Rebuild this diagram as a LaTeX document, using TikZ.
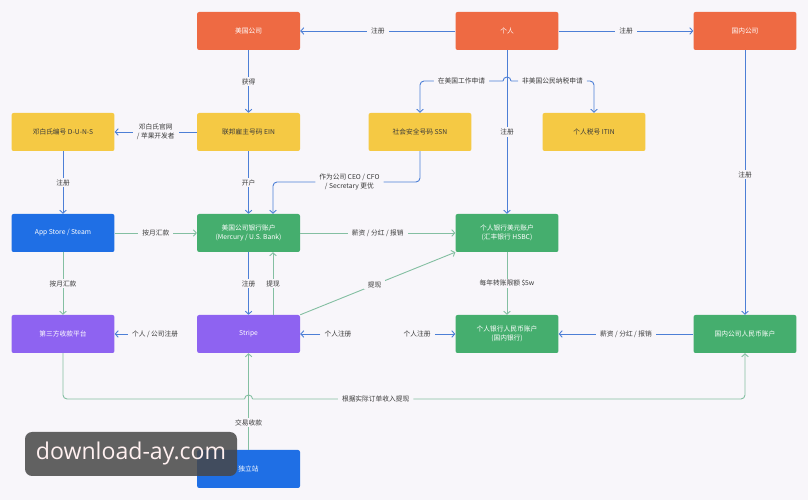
\documentclass[tikz,border=0pt]{standalone}
\usepackage{fontspec}
\setmainfont{Noto Sans CJK SC}
\newfontfamily\markfont{Open Sans}
\usepackage{tikz}
\usetikzlibrary{positioning, shapes, arrows.meta, calc}
\definecolor{fondoPapel}{HTML}{F8F6FA}
\definecolor{naranjaEnt}{HTML}{EE6A43}
\definecolor{amarilloId}{HTML}{F5C944}
\definecolor{azulPlat}{HTML}{1F6FE5}
\definecolor{verdeBanco}{HTML}{45AE6E}
\definecolor{moradoPago}{HTML}{8E63F1}
\definecolor{azulLinea}{HTML}{4D7FD6}
\definecolor{verdeLinea}{HTML}{84BFA2}
\definecolor{grisTexto}{HTML}{3A3A3A}

\begin{document}
\begin{tikzpicture}[
  box/.style={rounded corners=2pt, minimum width=3.6cm, minimum height=1.33cm,
              inner sep=2pt, align=center, font=\fontsize{6.7}{9}\selectfont},
  entity/.style={box, fill=naranjaEnt, text=white},
  idbox/.style={box, fill=amarilloId, text=grisTexto},
  platform/.style={box, fill=azulPlat, text=white},
  bankacc/.style={box, fill=verdeBanco, text=white},
  paybox/.style={box, fill=moradoPago, text=white},
  linkline/.style={azulLinea, line width=0.9pt},
  flowline/.style={verdeLinea, line width=0.9pt},
  link/.style={linkline, -{Straight Barb[length=3pt, width=6.5pt]}},
  flow/.style={flowline, -{Straight Barb[length=3pt, width=6.5pt]}},
  lbl/.style={fill=fondoPapel, text=grisTexto, inner xsep=4pt, inner ysep=1.5pt,
              align=center, font=\fontsize{6.7}{8.5}\selectfont},
  wmark/.style={fill=black!72, fill opacity=0.85, text opacity=1, text=red!6,
                rounded corners=7pt, minimum width=7.42cm, minimum height=1.54cm,
                font=\markfont\fontsize{23}{26}\selectfont}
]
  \fill[fondoPapel] (0,0) rectangle (28.28,17.5);
  \useasboundingbox (0,0) rectangle (28.28,17.5);

  % entities
  \node[entity] (usco) at (8.7, 16.415) {美国公司};
  \node[entity] (personal) at (17.745, 16.415) {个人};
  \node[entity] (cnco) at (26.075, 16.415) {国内公司};

  % identifiers
  \node[idbox] (duns) at (2.205, 12.88) {邓白氏编号 D-U-N-S};
  \node[idbox] (ein) at (8.7, 12.88) {联邦雇主号码 EIN};
  \node[idbox] (ssn) at (14.7, 12.88) {社会安全号码 SSN};
  \node[idbox] (itin) at (20.79, 12.88) {个人税号 ITIN};

  % accounts and platforms
  \node[platform] (appstore) at (2.205, 9.345) {App Store / Steam};
  \node[bankacc] (usbank) at (8.7, 9.345) {美国公司银行账户\\(Mercury / U.S. Bank)};
  \node[bankacc] (usdacc) at (17.745, 9.345) {个人银行美元账户\\(汇丰银行 HSBC)};

  \node[paybox] (thirdpay) at (2.205, 5.81) {第三方收款平台};
  \node[paybox] (stripe) at (8.7, 5.81) {Stripe};
  \node[bankacc] (cnyacc) at (17.745, 5.81) {个人银行人民币账户\\(国内银行)};
  \node[bankacc] (cnyco) at (26.075, 5.81) {国内公司人民币账户};

  \node[platform] (indep) at (8.7, 1.085) {独立站};

  \coordinate (fork) at (17.745, 14.665);
  \coordinate (ssnturn) at (9.555, 11.13);
  \coordinate (hopb) at (8.7, 3.535);

  % registration links
  \draw[link] (personal) -- node[lbl]{注册} (usco);
  \draw[link] (personal) -- node[lbl]{注册} (cnco);
  \draw[link] (usco) -- node[lbl]{获得} (ein);
  \draw[link] (ein) -- node[lbl]{邓白氏官网\\/ 苹果开发者} (duns);
  \draw[link] (duns) -- node[lbl]{注册} (appstore);
  \draw[link] (ein) -- node[lbl]{开户} (usbank);
  \draw[link, rounded corners=4pt] (ssn.south) |- node[lbl, pos=0.74]{作为公司 CEO / CFO\\/ Secretary 更优} (ssnturn) -- (usbank.north -| ssnturn);
  \draw[link] (personal) -- node[lbl]{注册} (usdacc);
  \draw[link, rounded corners=4pt] ($(fork)+(-0.14,0)$) -| node[lbl, pos=0.25]{在美国工作申请} (ssn);
  \draw[linkline] ($(fork)+(-0.14,0)$) arc[start angle=180, end angle=0, radius=0.14];
  \draw[link, rounded corners=4pt] ($(fork)+(0.14,0)$) -| node[lbl, pos=0.25]{非美国公民纳税申请} (itin);
  \draw[link] (cnco) -- node[lbl, pos=0.47]{注册} (cnyco);
  \draw[link] (usbank) -- node[lbl]{注册} (stripe);
  \draw[link] (cnyco) -- node[lbl]{薪资 / 分红 / 报销} (cnyacc);

  \node[lbl] (regthird) at (5.43, 5.81) {个人 / 公司注册};
  \node[lbl] (regstripe) at (11.83, 5.81) {个人注册};
  \node[lbl] (regcny) at (14.6, 5.81) {个人注册};
  \draw[link] (regthird) -- (thirdpay);
  \draw[link] (regstripe) -- (stripe);
  \draw[link] (regcny) -- (cnyacc);

  % money flows
  \draw[flow] (appstore) -- node[lbl]{按月汇款} (usbank);
  \draw[flow] (appstore) -- node[lbl]{按月汇款} (thirdpay);
  \draw[flow] (stripe.north -| ssnturn) -- node[lbl]{提现} (usbank.south -| ssnturn);
  \draw[flow] (usbank) -- node[lbl]{薪资 / 分红 / 报销} (usdacc);
  \draw[flow] (stripe.north east) -- node[lbl, pos=0.48]{提现} (usdacc.south west);
  \draw[flow] (usdacc) -- node[lbl]{每年转账限额 \$5w} (cnyacc);
  \draw[flowline, rounded corners=4pt] (thirdpay.south) |- ($(hopb)+(-0.14,0)$);
  \draw[flowline] ($(hopb)+(-0.14,0)$) arc[start angle=180, end angle=0, radius=0.14];
  \draw[flow, rounded corners=4pt] ($(hopb)+(0.14,0)$) -| node[lbl, pos=0.125]{根据实际订单收入提现} (cnyco);
  \draw[flow] (indep) -- node[lbl, pos=0.28]{交易收款} (stripe);

  \node[wmark] (wm) at (4.585, 1.61) {download-ay.com};
\end{tikzpicture}
\end{document}
